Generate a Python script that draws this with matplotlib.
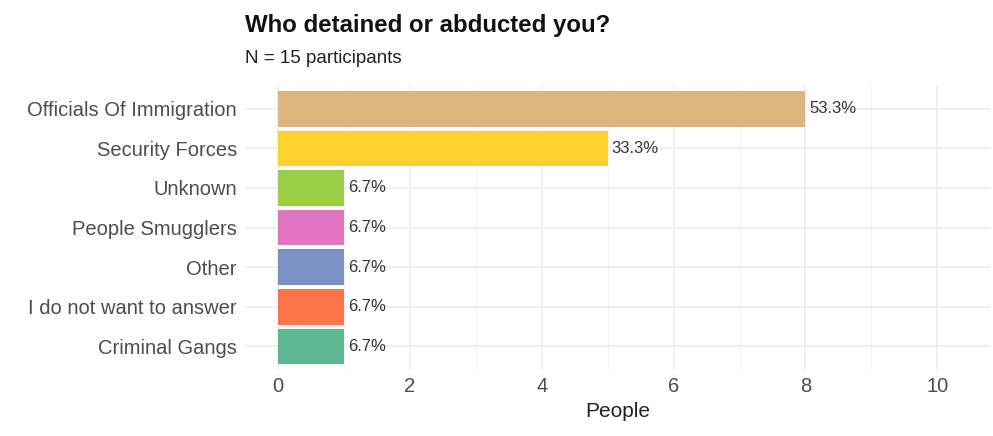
import matplotlib.pyplot as plt
from matplotlib.ticker import MultipleLocator

plt.rcParams['font.family'] = ['Liberation Sans', 'DejaVu Sans']

categories = ['Officials Of Immigration', 'Security Forces', 'Unknown', 'People Smugglers',
              'Other', 'I do not want to answer', 'Criminal Gangs']
people = [8, 5, 1, 1, 1, 1, 1]
labels = ['53.3%', '33.3%', '6.7%', '6.7%', '6.7%', '6.7%', '6.7%']
colors = ['#DDB47E', '#FDD22C', '#9BD046', '#E074BF', '#7D90C5', '#FC744A', '#5BB893']

fig = plt.figure(figsize=(9.93, 4.36), dpi=100)
ax = fig.add_axes([0.247, 0.151, 0.75, 0.654])

ypos = list(range(len(categories)))[::-1]
ax.barh(ypos, people, height=0.9, color=colors, zorder=2)
for y, v, lab in zip(ypos, people, labels):
    ax.text(v + 0.06, y, lab, va='center', ha='left', fontsize=12, color='#333333', zorder=3)

ax.set_xlim(-0.5, 10.8)
ax.set_ylim(-0.6, 6.6)
ax.set_yticks(ypos)
ax.set_yticklabels(categories, fontsize=14.5, color='#4D4D4D')
ax.xaxis.set_major_locator(MultipleLocator(2))
ax.xaxis.set_minor_locator(MultipleLocator(1))
ax.tick_params(axis='x', labelsize=14.5, labelcolor='#4D4D4D', length=0, which='both', pad=5)
ax.tick_params(axis='y', length=0, pad=6)
ax.grid(True, which='major', color='#EBEBEB', linewidth=1.1, zorder=0)
ax.grid(True, which='minor', axis='x', color='#F2F2F2', linewidth=0.7, zorder=0)
ax.set_axisbelow(True)
for s in ax.spines.values():
    s.set_visible(False)
ax.set_xlabel('People', fontsize=15, color='#222222', labelpad=4)

fig.text(0.247, 0.927, 'Who detained or abducted you?', fontsize=17.3, fontweight='bold',
         color='#111111', ha='left', va='baseline')
fig.text(0.247, 0.855, 'N = 15 participants', fontsize=13.5, color='#222222', ha='left', va='baseline')

fig.savefig('out.png', dpi=100)
